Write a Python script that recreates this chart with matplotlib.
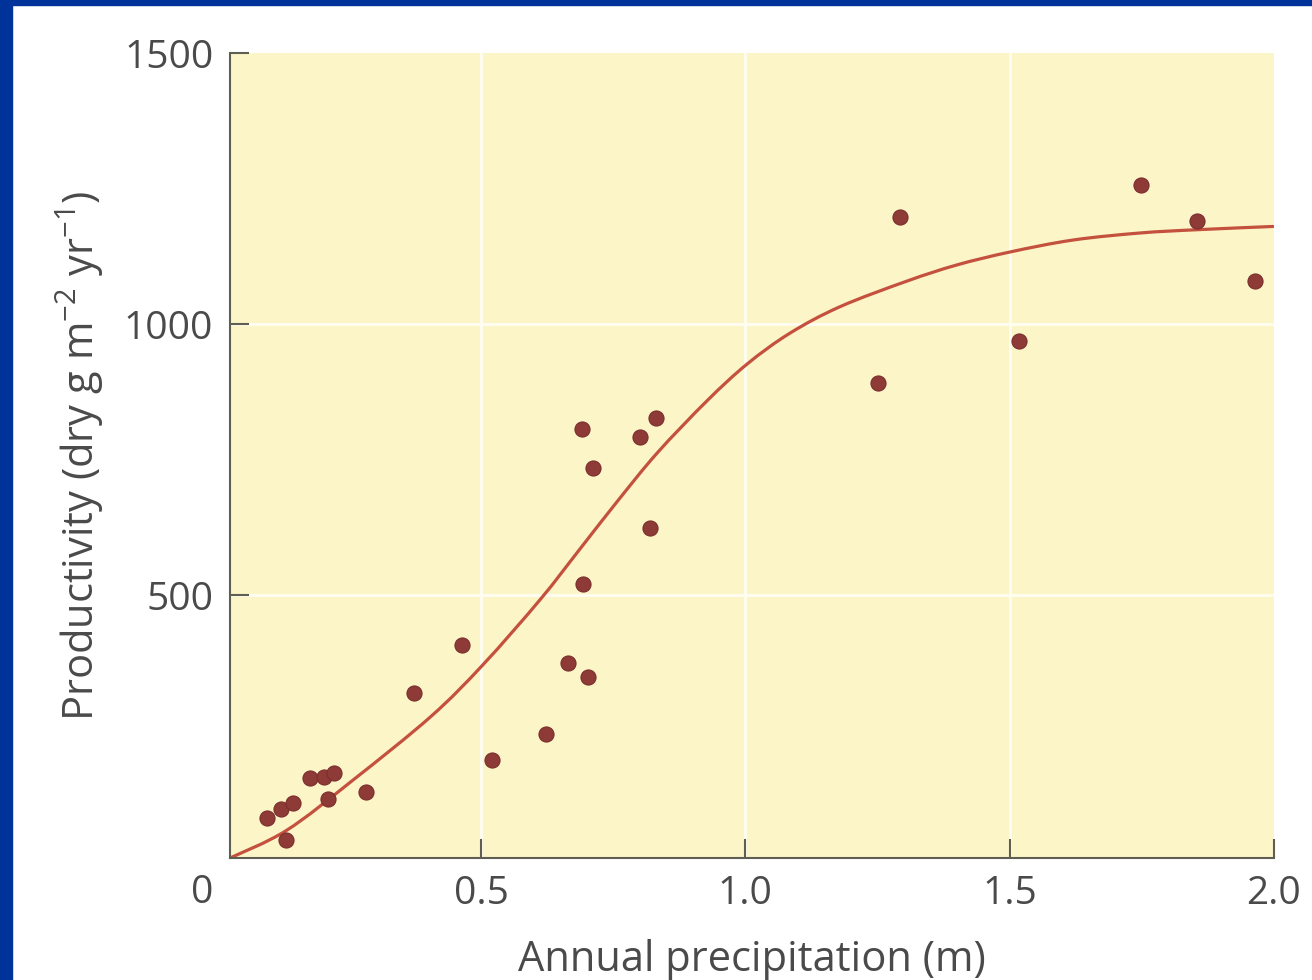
import matplotlib
matplotlib.use("Agg")
import matplotlib.pyplot as plt
from matplotlib.patches import Rectangle, PathPatch
from matplotlib.path import Path

# ---- data ----
precip = [0.095, 0.122, 0.144, 0.131, 0.177, 0.202, 0.222, 0.210, 0.282,
          0.373, 0.464, 0.520, 0.622, 0.665, 0.702, 0.692, 0.711, 0.691,
          0.801, 0.831, 0.820, 1.251, 1.293, 1.518, 1.749, 1.855, 1.964]
productivity = [88, 105, 116, 48, 162, 165, 172, 123, 137,
                319, 408, 196, 244, 374, 349, 520, 735, 806,
                792, 826, 623, 891, 1198, 969, 1256, 1190, 1079]

curve_x = [0.025, 0.132, 0.258, 0.405, 0.504, 0.612, 0.687, 0.757, 0.833, 0.927,
           1.003, 1.084, 1.179, 1.305, 1.400, 1.501, 1.620, 1.747, 1.854, 1.998]
curve_y = [15, 66, 159, 276, 372, 492, 585, 672, 762, 858,
           926, 983, 1032, 1079, 1109, 1133, 1155, 1168, 1174, 1180]

x_ticks = [0.5, 1.0, 1.5, 2.0]
x_tick_labels = ["0.5", "1.0", "1.5", "2.0"]
y_ticks = [500, 1000, 1500]
y_tick_labels = ["500", "1000", "1500"]

# ---- style ----
plt.rcParams['font.family'] = ['Open Sans', 'DejaVu Sans']
plt.rcParams['mathtext.fontset'] = 'custom'
plt.rcParams['mathtext.rm'] = 'Open Sans'
plt.rcParams['mathtext.it'] = 'Open Sans'
plt.rcParams['mathtext.bf'] = 'Open Sans'

TEXT = '#4A4A4A'
W, H = 1312, 980
fig = plt.figure(figsize=(W / 100, H / 100), dpi=100)
fig.patch.set_facecolor('white')

# blue frame on left and top
fig.patches.append(Rectangle((0, 0), 12 / W, 1, transform=fig.transFigure,
                             color='#003399', zorder=0))
fig.patches.append(Rectangle((0, 1 - 5 / H), 1, 5 / H, transform=fig.transFigure,
                             color='#003399', zorder=0))

left, right = 230 / W, 1274 / W
bottom, top = 1 - 858 / H, 1 - 53 / H
ax = fig.add_axes([left, bottom, right - left, top - bottom])
ax.set_facecolor('#FCF5C8')

ax.set_xlim(0.025, 2.0)
ax.set_ylim(15, 1500)

# grid lines
for gx in [0.5, 1.0, 1.5]:
    ax.axvline(gx, color='#FFFDF2', lw=2.0, zorder=1)
for gy in [500, 1000]:
    ax.axhline(gy, color='#FFFDF2', lw=2.0, zorder=1)

# smooth curve through the read points (Catmull-Rom rendered as Bezier path)
pts = list(zip(curve_x, curve_y))
verts = [pts[0]]
codes = [Path.MOVETO]
n = len(pts)
for i in range(n - 1):
    p0 = pts[i - 1] if i > 0 else pts[i]
    p1 = pts[i]
    p2 = pts[i + 1]
    p3 = pts[i + 2] if i + 2 < n else pts[i + 1]
    c1 = (p1[0] + (p2[0] - p0[0]) / 6, p1[1] + (p2[1] - p0[1]) / 6)
    c2 = (p2[0] - (p3[0] - p1[0]) / 6, p2[1] - (p3[1] - p1[1]) / 6)
    verts += [c1, c2, p2]
    codes += [Path.CURVE4] * 3
ax.add_patch(PathPatch(Path(verts, codes), facecolor='none', edgecolor='#C4503E',
                       lw=2.3, zorder=2, capstyle='round', joinstyle='round'))

ax.scatter(precip, productivity, s=118, color='#8E3B38', edgecolor='#7A2E2C',
           linewidth=0.8, zorder=3)

for side in ['top', 'right']:
    ax.spines[side].set_visible(False)
for side in ['left', 'bottom']:
    ax.spines[side].set_color('#5E5E52')
    ax.spines[side].set_linewidth(1.5)

ax.set_xticks(x_ticks)
ax.set_xticklabels(x_tick_labels)
ax.set_yticks(y_ticks)
ax.set_yticklabels(y_tick_labels)
ax.tick_params(axis='both', direction='in', length=14, width=1.5,
               color='#5E5E52', labelsize=28, labelcolor=TEXT)
ax.tick_params(axis='x', pad=12)
ax.tick_params(axis='y', pad=12)

fig.text(202 / W, 1 - 893 / H, "0", ha='center', va='center',
         fontsize=28, color=TEXT)

ax.set_xlabel("Annual precipitation (m)", fontsize=30, color=TEXT, labelpad=19)
ax.set_ylabel("Productivity (dry g m$^{-2}$ yr$^{-1}$)", fontsize=30,
              color=TEXT, labelpad=13)

fig.savefig("out.png", dpi=100)
